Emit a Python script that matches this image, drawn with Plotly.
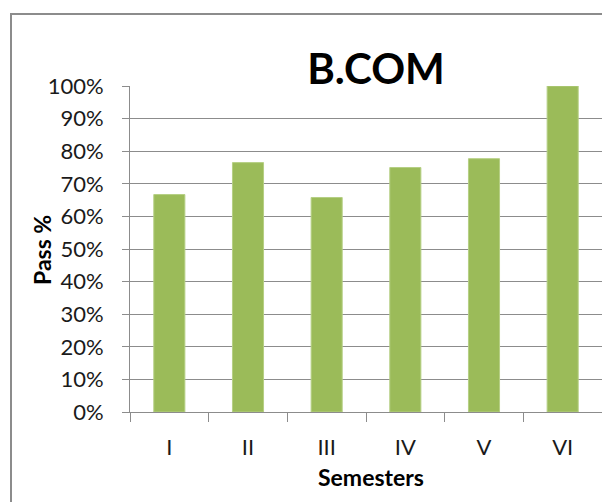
import plotly.graph_objects as go

semesters = ["I", "II", "III", "IV", "V", "VI"]
pass_rate = [0.667, 0.765, 0.658, 0.75, 0.777, 1.0]
y_ticks = [0, 0.1, 0.2, 0.3, 0.4, 0.5, 0.6, 0.7, 0.8, 0.9, 1.0]

W, H = 610, 502
OFF = 8  # page body margin shifts the figure by this much
# plot area in screen pixels: x 130..602, y 86..412
L, T = 130 - OFF, 86 - OFF
R = W - (602 - OFF)
B = H - (412 - OFF)
pw, ph = W - L - R, H - T - B
grey = "#8c8c8c"
font = "Lato, 'Open Sans', sans-serif"


def px_x(x):
    return (x - OFF - L) / pw


def px_y(y):
    return (H - B - (y - OFF)) / ph


fig = go.Figure()
fig.add_trace(go.Bar(x=semesters, y=pass_rate,
                     marker=dict(color="#9bbb59", line=dict(color="#b5cf84", width=1))))

# outer chart border
fig.add_shape(type="rect", xref="paper", yref="paper",
              x0=px_x(11), x1=px_x(W + 30), y0=px_y(H + 30), y1=px_y(14),
              line=dict(color=grey, width=2), layer="below")

fig.update_layout(
    width=W, height=H,
    margin=dict(l=L, r=R, t=T, b=B),
    paper_bgcolor="white", plot_bgcolor="white",
    bargap=0.605, showlegend=False,
    font=dict(family=font, color="#1a1a1a"),
    title=dict(text="<b>B.COM</b>", font=dict(size=42, color="black"),
               x=(376 - OFF) / W, xref="container", xanchor="center",
               y=1 - (69 - OFF) / H, yref="container", yanchor="middle"),
)
fig.update_yaxes(range=[0, 1], tickvals=y_ticks, tickformat=".0%",
                 showgrid=True, gridcolor=grey, gridwidth=1,
                 showline=True, linecolor=grey, linewidth=1,
                 ticks="outside", ticklen=7, tickcolor=grey,
                 tickfont=dict(size=22), ticklabelstandoff=14, zeroline=False)
fig.update_xaxes(showline=True, linecolor=grey, linewidth=1,
                 ticks="outside", ticklen=9, tickcolor=grey, tickson="boundaries",
                 tickfont=dict(size=22), ticklabelstandoff=16)

fig.add_annotation(text="<b>Semesters</b>", xref="paper", yref="paper",
                   x=px_x(371), y=px_y(477), xanchor="center", yanchor="middle",
                   showarrow=False, font=dict(size=23, color="black"))
fig.add_annotation(text="<b>Pass %</b>", xref="paper", yref="paper",
                   x=px_x(42), y=px_y(250), xanchor="center", yanchor="middle",
                   textangle=-90, showarrow=False, font=dict(size=23, color="black"))

fig.write_html("out.html")
